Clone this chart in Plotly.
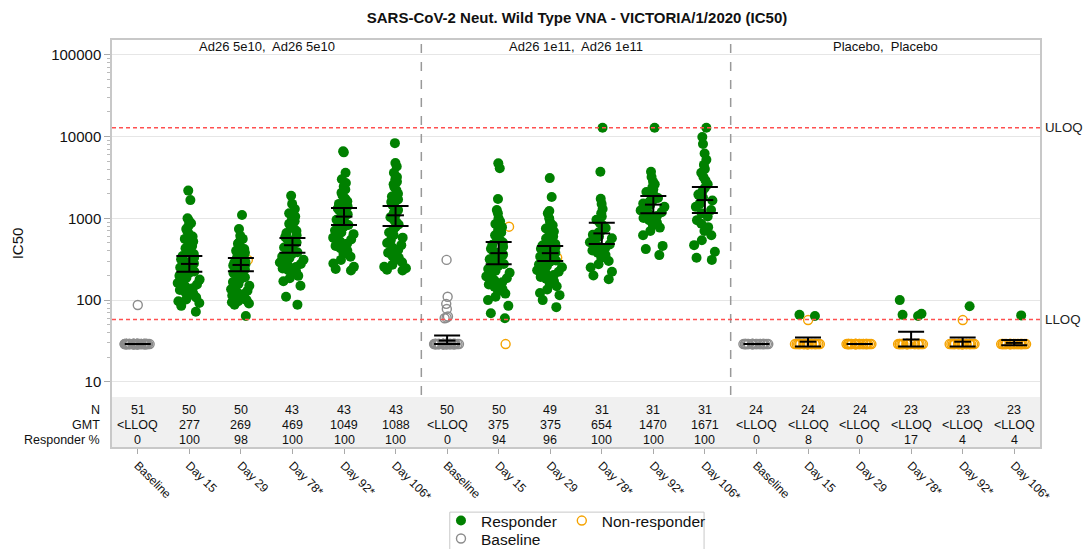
import math
import plotly.graph_objects as go

# ---- data ----
visits = ["Baseline", "Day 15", "Day 29", "Day 78*", "Day 92*", "Day 106*"] * 3
panels = ["Ad26 5e10,\u00a0 Ad26 5e10", "Ad26 1e11,\u00a0 Ad26 1e11", "Placebo,\u00a0 Placebo"]

n_row = [51, 50, 50, 43, 43, 43, 50, 50, 49, 31, 31, 31, 24, 24, 24, 23, 23, 23]
gmt_row = ["<LLOQ", "277", "269", "469", "1049", "1088",
           "<LLOQ", "375", "375", "654", "1470", "1671",
           "<LLOQ", "<LLOQ", "<LLOQ", "<LLOQ", "<LLOQ", "<LLOQ"]
resp_row = [0, 100, 98, 100, 100, 100, 0, 94, 96, 100, 100, 100, 0, 8, 0, 17, 4, 4]

# plotted GMT with 95% CI
gmt = [29, 277, 269, 469, 1049, 1088, 32, 375, 375, 654, 1470, 1671, 29, 31, 29, 33, 31, 30]
ci_lo = [29, 222, 226, 379, 830, 805, 29, 275, 300, 485, 1150, 1160, 29, 27, 29, 27, 27, 28]
ci_hi = [29, 346, 327, 575, 1335, 1410, 37, 512, 458, 880, 1880, 2420, 29, 35, 29, 41, 35, 32.5]

ULOQ = 12800
LLOQ = 58

# Ad26 5e10, Ad26 5e10
g1_base = [29] * 50 + [87]
g1_d15 = [2180, 1670, 1000, 940, 870, 800, 740, 690, 640, 600, 560, 520, 490, 460, 430,
          405, 385, 365, 345, 330, 315, 300, 290, 280, 270, 260, 250, 240, 232, 224,
          215, 205, 198, 188, 178, 170, 162, 155, 148, 140, 133, 126, 120, 114, 108,
          102, 97, 92, 85, 72]
g1_d29 = [1100, 740, 610, 560, 520, 490, 465, 440, 420, 400, 380, 360, 345, 330, 318,
          305, 295, 285, 275, 265, 255, 246, 238, 230, 222, 214, 206, 198, 190, 182,
          174, 166, 158, 150, 143, 136, 130, 124, 119, 114, 110, 106, 103, 100, 97,
          94, 91, 88, 64]
g1_d29_nr = [310]
g1_d78 = [1890, 1500, 1300, 1150, 1050, 980, 920, 860, 800, 750, 700, 660, 620, 590, 560,
          530, 505, 480, 460, 440, 420, 400, 385, 370, 355, 340, 325, 312, 300, 288,
          276, 265, 254, 243, 232, 222, 210, 198, 185, 170, 150, 110, 88]
g1_d92 = [6600, 6400, 3600, 3000, 2700, 2450, 2250, 2050, 1900, 1750, 1620, 1500, 1400,
          1320, 1250, 1180, 1120, 1060, 1010, 960, 910, 870, 830, 790, 750, 710, 670,
          640, 610, 580, 550, 520, 490, 460, 430, 400, 370, 340, 310, 280, 255, 240, 230]
g1_d106 = [8300, 4750, 4300, 3600, 3200, 3000, 2800, 2600, 2400, 2200, 2000, 1850, 1700,
           1580, 1460, 1350, 1260, 1180, 1100, 1030, 960, 900, 840, 780, 720, 670, 620,
           580, 540, 500, 470, 440, 410, 380, 350, 330, 310, 290, 270, 255, 245, 235, 230]

# Ad26 1e11, Ad26 1e11
g2_base = [29] * 43 + [310, 110, 90, 78, 63, 61, 60]
g2_d15 = [4700, 4100, 1720, 1260, 1150, 1000, 920, 850, 780, 720, 670, 620, 580, 540, 505,
          475, 450, 425, 400, 380, 360, 345, 330, 315, 300, 288, 276, 264, 252, 240,
          228, 216, 205, 195, 185, 175, 165, 155, 146, 137, 128, 120, 110, 100, 85, 69, 60]
g2_d15_nr = [790, 214, 29]
g2_d29 = [3100, 1820, 1230, 1150, 1000, 900, 820, 750, 690, 640, 600, 565, 535, 510, 485,
          465, 445, 425, 410, 395, 380, 365, 352, 340, 328, 316, 305, 294, 283, 272,
          262, 252, 242, 232, 222, 212, 202, 192, 182, 170, 160, 148, 135, 122, 115, 100, 82]
g2_d29_nr = [340, 330]
g2_d78 = [12800, 3700, 1730, 1500, 1300, 1150, 1050, 960, 880, 820, 760, 710, 670, 630, 600,
          570, 540, 510, 480, 455, 430, 405, 380, 355, 330, 300, 275, 250, 222, 200, 180]
g2_d92 = [12800, 3700, 3200, 2800, 2600, 2400, 2250, 2100, 1980, 1870, 1770, 1680, 1600,
          1520, 1450, 1380, 1310, 1250, 1190, 1130, 1070, 1010, 950, 890, 830, 770, 700,
          620, 460, 420, 355]
g2_d106 = [12800, 9850, 8100, 6200, 5200, 4500, 4000, 3600, 3200, 2900, 2600, 2350, 2150,
           1950, 1800, 1650, 1500, 1380, 1260, 1150, 1050, 950, 860, 780, 700, 620, 540,
           470, 390, 330, 310]

# Placebo, Placebo
p_base = [29] * 24
p_d15 = [64, 66]
p_d15_nr = [57] + [29] * 21
p_d29_nr = [29] * 24
p_d78 = [100, 68, 66, 64]
p_d78_nr = [29] * 19
p_d92 = [84]
p_d92_nr = [57] + [29] * 21
p_d106 = [65]
p_d106_nr = [29] * 22

responders = [[], g1_d15, g1_d29, g1_d78, g1_d92, g1_d106,
              [], g2_d15, g2_d29, g2_d78, g2_d92, g2_d106,
              [], p_d15, [], p_d78, p_d92, p_d106]
non_responders = [[], [], g1_d29_nr, [], [], [],
                  [], g2_d15_nr, g2_d29_nr, [], [], [],
                  [], p_d15_nr, p_d29_nr, p_d78_nr, p_d92_nr, p_d106_nr]
baselines = [g1_base, [], [], [], [], [],
             g2_base, [], [], [], [], [],
             p_base, [], [], [], [], []]

GREEN = "#008000"
ORANGE = "#F5A300"
GREY = "#8C8C8C"
FONT = "Liberation Sans, Arial, sans-serif"

fig = go.Figure()


def add_points(i, vals, marker):
    if not vals:
        return
    fig.add_trace(go.Box(
        x=[i] * len(vals), y=vals,
        boxpoints="all", jitter=1, pointpos=0, width=0.52,
        fillcolor="rgba(0,0,0,0)", line=dict(width=0, color="rgba(0,0,0,0)"),
        marker=marker, showlegend=False, hoveron="points", hoverinfo="y",
    ))


for i in range(len(visits)):
    add_points(i, baselines[i], dict(symbol="circle-open", size=9, color=GREY, line=dict(width=1.4, color=GREY)))
    add_points(i, non_responders[i], dict(symbol="circle-open", size=9, color=ORANGE, line=dict(width=1.4, color=ORANGE)))
    add_points(i, responders[i], dict(symbol="circle", size=10, color=GREEN, line=dict(width=0)))

# GMT with 95% CI
fig.add_trace(go.Scatter(
    x=list(range(len(visits))), y=gmt, mode="markers",
    marker=dict(symbol="line-ew", size=12, color="black", line=dict(width=2, color="black")),
    error_y=dict(type="data", symmetric=False,
                 array=[h - g for h, g in zip(ci_hi, gmt)],
                 arrayminus=[g - l for g, l in zip(gmt, ci_lo)],
                 color="black", thickness=2, width=13),
    showlegend=False, hoverinfo="skip",
))

# legend entries
fig.add_trace(go.Scatter(x=[None], y=[None], mode="markers", name="Responder",
                         marker=dict(symbol="circle", size=10, color=GREEN)))
fig.add_trace(go.Scatter(x=[None], y=[None], mode="markers", name="Non-responder",
                         marker=dict(symbol="circle-open", size=9, color=ORANGE, line=dict(width=1.4))))
fig.add_trace(go.Scatter(x=[None], y=[None], mode="markers", name="Baseline", legend="legend2",
                         marker=dict(symbol="circle-open", size=9, color=GREY, line=dict(width=1.4))))

# table band
fig.add_shape(type="rect", xref="paper", yref="paper", x0=0, x1=1, y0=0, y1=0.123,
              fillcolor="#F0F0F0", line=dict(width=0), layer="below")

# panel separators
for sx in [5.5, 11.5]:
    fig.add_shape(type="line", xref="x", yref="paper", x0=sx, x1=sx, y0=0.128, y1=1,
                  line=dict(color="#999999", width=1.5, dash="dash"))

# quantification limits
for val, lab in [(ULOQ, "ULOQ"), (LLOQ, "LLOQ")]:
    fig.add_shape(type="line", xref="paper", yref="y", x0=0, x1=1, y0=val, y1=val,
                  line=dict(color="#FF5050", width=1.4, dash="4px,3px"))
    fig.add_annotation(text=lab, xref="paper", x=1.0035, xanchor="left",
                       yref="y", y=math.log10(val), yanchor="middle",
                       showarrow=False, font=dict(size=13.3, color="#222222"))

# panel headers
for k, p in enumerate(panels):
    fig.add_annotation(text=p, xref="x", x=6 * k + 2.5, yref="paper", y=0.983, yanchor="middle",
                       showarrow=False, font=dict(size=13, color="#111111"))

# summary table
rows = [("N", n_row, 0.0909), ("GMT", gmt_row, 0.0541), ("Responder %", resp_row, 0.0172)]
for label, vals, yy in rows:
    fig.add_annotation(text=label, xref="paper", x=-0.011, xanchor="right", yref="paper", y=yy,
                       yanchor="middle", showarrow=False, font=dict(size=12.5, color="#111111"))
    for i, v in enumerate(vals):
        fig.add_annotation(text=str(v), xref="x", x=i, xanchor="center", yref="paper", y=yy,
                           yanchor="middle", showarrow=False, font=dict(size=12.5, color="#111111"))

# legend border
fig.add_shape(type="rect", xref="paper", yref="paper", x0=0.364, x1=0.638, y0=-0.29, y1=-0.160,
              line=dict(color="#C8C8C8", width=1), fillcolor="rgba(0,0,0,0)")

minor_vals = [m * 10 ** e for e in range(1, 5) for m in range(2, 10)]

# the page body has an 8px margin, so the canvas sits 8px in and only 1075px of it shows
fig.update_layout(
    width=1075, height=541,
    margin=dict(l=104, r=43, t=32, b=102, autoexpand=False),
    paper_bgcolor="white", plot_bgcolor="white",
    font=dict(family=FONT, color="#111111"),
    title=dict(text="<b>SARS-CoV-2 Neut. Wild Type VNA - VICTORIA/1/2020 (IC50)</b>",
               x=569 / 1075, xanchor="center", y=1 - 10 / 541, yanchor="middle",
               font=dict(size=15, color="#111111")),
    boxmode="overlay",
    showlegend=True,
    legend=dict(orientation="h", x=0.3545, y=-0.140, xanchor="left", yanchor="top",
                font=dict(size=15.5), bgcolor="rgba(0,0,0,0)", itemwidth=30),
    legend2=dict(orientation="h", x=0.3545, y=-0.184, xanchor="left", yanchor="top",
                 font=dict(size=15.5), bgcolor="rgba(0,0,0,0)", itemwidth=30),
    xaxis=dict(range=[-0.5, 17.5], tickmode="array", tickvals=list(range(len(visits))),
               ticktext=visits, tickangle=45, ticks="outside", ticklen=5, tickcolor="#AAAAAA",
               showgrid=False, zeroline=False, showline=True, mirror=True, linecolor="#C8C8C8",
               linewidth=1.5, tickfont=dict(size=12, color="#111111"), automargin=False),
    yaxis=dict(type="log", range=[0.204, 5.18], tickmode="array",
               tickvals=[10, 100, 1000, 10000, 100000],
               ticktext=["10", "100", "1000", "10000", "100000"],
               ticks="outside", ticklen=6, tickcolor="#AAAAAA",
               minor=dict(tickmode="array", tickvals=minor_vals, ticks="outside", ticklen=3,
                          tickcolor="#BBBBBB", showgrid=False),
               showgrid=True, gridcolor="#E6E6E6", gridwidth=1.2, zeroline=False,
               showline=True, mirror=True, linecolor="#C8C8C8", linewidth=1.5,
               tickfont=dict(size=15, color="#111111"), automargin=False,
               title=dict(text="IC50", font=dict(size=15, color="#111111"), standoff=24)),
)

fig.write_html("out.html")
